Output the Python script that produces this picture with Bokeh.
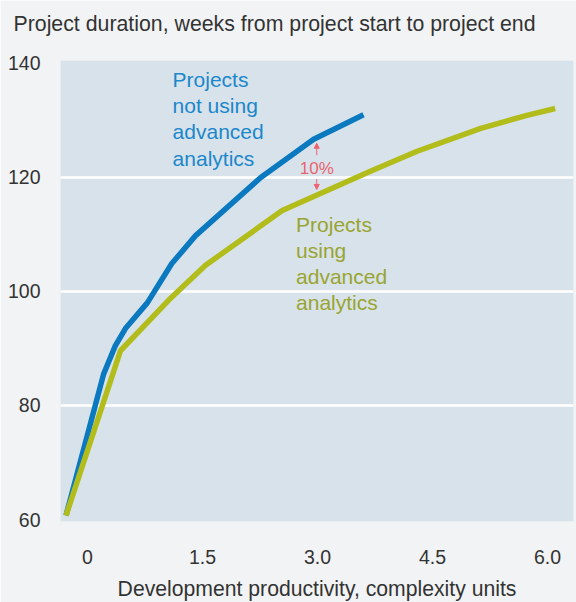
from bokeh.plotting import figure
from bokeh.models import FixedTicker, Arrow, NormalHead, Range1d, Title
from bokeh.core.properties import value
from bokeh.embed import file_html
from bokeh.resources import INLINE

# Data
blue_x = [-0.28, 0.21, 0.36, 0.50, 0.78, 1.10, 1.41, 2.26, 2.95, 3.60]
blue_y = [60.7, 85.5, 90.4, 93.6, 98.0, 104.9, 109.8, 120.0, 126.7, 131.0]
green_x = [-0.28, 0.43, 1.06, 1.54, 2.54, 3.69, 4.30, 5.13, 5.73, 6.10]
green_y = [60.7, 89.6, 98.5, 104.6, 114.2, 121.1, 124.6, 128.6, 130.9, 132.1]
x_ticks = [0, 1.5, 3.0, 4.5, 6.0]
x_tick_labels = ["0", "1.5", "3.0", "4.5", "6.0"]
y_ticks = [60, 80, 100, 120, 140]
grid_ticks = [80, 100, 120]
title_text = "Project duration, weeks from project start to project end"
x_label = "Development productivity, complexity units"
blue_label = ["Projects", "not using", "advanced", "analytics"]
green_label = ["Projects", "using", "advanced", "analytics"]
gap_label = "10%"

FONT = "Liberation Sans"
BLUE = "#0a79c0"
BLUE_TXT = "#1b87cc"
GREEN = "#b2bd1c"
GREEN_TXT = "#99a531"
RED = "#ea6470"
TXT = "#333333"
BG = "#f2f3f5"

p = figure(width=576, height=602, output_backend="svg", toolbar_location=None,
           x_range=Range1d(-0.352, 6.339), y_range=Range1d(59.65, 140.52),
           min_border_left=60, min_border_right=3, min_border_top=60, min_border_bottom=78,
           title=None)

p.background_fill_color = "#d8e2ea"
p.border_fill_color = BG
p.outline_line_color = None

# spacer panel next to the frame, then the title above it
p.add_layout(Title(text=" ", text_font_size="10px", standoff=12, text_color=BG), "above")
p.add_layout(Title(text=title_text, text_font=FONT, text_font_size="21.3px",
                   text_font_style="normal", text_color=TXT, align="left",
                   offset=-47, standoff=0, vertical_align="bottom"), "above")

# axes
p.xaxis.ticker = FixedTicker(ticks=x_ticks)
p.xaxis.major_label_overrides = {t: l for t, l in zip(x_ticks, x_tick_labels)}
p.yaxis.ticker = FixedTicker(ticks=y_ticks)
for ax in (p.xaxis, p.yaxis):
    ax.axis_line_color = None
    ax.major_tick_line_color = None
    ax.minor_tick_line_color = None
    ax.major_label_text_font = FONT
    ax.major_label_text_font_size = "19.5px"
    ax.major_label_text_color = TXT
p.yaxis.major_label_standoff = 14
p.xaxis.major_label_standoff = 22
p.xaxis.axis_label = x_label
p.xaxis.axis_label_text_font = FONT
p.xaxis.axis_label_text_font_size = "21.2px"
p.xaxis.axis_label_text_font_style = "normal"
p.xaxis.axis_label_text_color = TXT
p.xaxis.axis_label_standoff = 10

p.xgrid.grid_line_color = None
p.ygrid.ticker = FixedTicker(ticks=grid_ticks)
p.ygrid.grid_line_color = "white"
p.ygrid.grid_line_width = 2.5

# lines
p.line(blue_x, blue_y, line_color=BLUE, line_width=5.5, line_join="round")
p.line(green_x, green_y, line_color=GREEN, line_width=5.5, line_join="round")

# labels
blue_ys = [137.2, 132.6, 128.0, 123.4]
p.text(x=[1.11] * 4, y=blue_ys, text=blue_label, text_font=value(FONT),
       text_font_size="21px", text_color=BLUE_TXT, text_baseline="alphabetic", text_align="left")
green_ys = [111.8, 107.2, 102.6, 98.0]
p.text(x=[2.72] * 4, y=green_ys, text=green_label, text_font=value(FONT),
       text_font_size="21px", text_color=GREEN_TXT, text_baseline="alphabetic", text_align="left")
p.text(x=[2.99], y=[121.6], text=[gap_label], text_font=value(FONT),
       text_font_size="17px", text_color=RED, text_baseline="middle", text_align="center")

p.add_layout(Arrow(end=NormalHead(size=5, fill_color=RED, line_color=RED, line_width=1),
                   x_start=2.99, y_start=123.9, x_end=2.99, y_end=126.0,
                   line_color=RED, line_width=1))
p.add_layout(Arrow(end=NormalHead(size=5, fill_color=RED, line_color=RED, line_width=1),
                   x_start=2.99, y_start=119.7, x_end=2.99, y_end=117.9,
                   line_color=RED, line_width=1))

open("out.html", "w").write(file_html(p, INLINE))
